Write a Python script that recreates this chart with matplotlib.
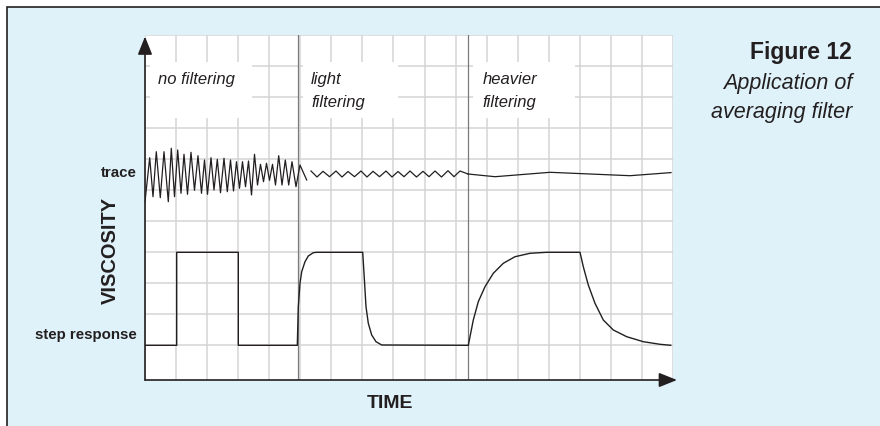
import matplotlib
matplotlib.use("Agg")
import matplotlib.pyplot as plt
from matplotlib.patches import Rectangle
import numpy as np

plt.rcParams["font.family"] = ["Liberation Sans", "DejaVu Sans"]

# ── データ（時間・粘度とも任意単位、グリッド 1 目盛 = 31）────────────────
# トレース：フィルタなし（谷・山を交互に読み取り）
trace_raw_t = [0, 4.7, 8, 11.3, 15.3, 19, 23.3, 26.3, 29.5, 32.7, 36, 39, 42.5, 46,
               49.5, 53, 56.5, 59.5, 62.5, 66, 69, 72.3, 75.5, 79, 82.3, 85.5, 88.5,
               91.5, 94.5, 97.5, 100.5, 103.5, 106.5, 109.5, 112.5, 115.5, 118.5,
               121.5, 124.5, 127.5, 130.5, 133.7, 137, 140.3, 143.7, 147, 151, 155,
               161.7]
trace_raw_v = [143.6, 187.6, 148.6, 193.6, 147.6, 193.6, 143.6, 197, 148.6, 195.3,
               152, 191, 151, 193, 155, 189.6, 152, 185.3, 151, 187.6, 155.3, 186,
               152.6, 187, 153.6, 185.3, 154.3, 183.6, 157, 183.6, 158.6, 184.3,
               150.3, 191, 160.3, 181, 163.6, 182, 165, 181, 160.3, 189.6, 160.3,
               185.3, 160.3, 183.6, 158.6, 180.3, 165.3]
# トレース：軽いフィルタ
trace_light_t = [166, 172, 178, 184.5, 191, 197, 203, 209.5, 216, 222, 228, 234.5,
                 241, 247, 253, 259, 265, 271.5, 278, 284, 290, 296.5, 303, 309,
                 315, 323]
trace_light_v = [174.3, 168.3, 174.0, 168.6, 174.3, 168.3, 173.8, 168.6, 174.3,
                 168.3, 174.0, 168.6, 174.3, 168.3, 173.8, 168.6, 174.3, 168.3,
                 174.0, 168.6, 174.3, 168.3, 174.6, 168.6, 174.3, 171.3]
# トレース：強いフィルタ
trace_heavy_t = [323, 350, 405, 485, 526]
trace_heavy_v = [171.3, 168.6, 173, 169.6, 172.7]

# ステップ応答
step_t = [0, 31.7, 31.7, 93.3, 93.3, 152.3,
          153.3, 155, 156.7, 160, 163.3, 168.3, 171.7, 217.7,
          219, 221, 223.3, 226.7, 231, 236.7, 323.3,
          328.3, 333.3, 340, 348.3, 358.3, 370, 385, 401.7, 435,
          438.3, 443.3, 450, 458.3, 468.3, 481.7, 498.3, 515, 525.7]
step_v = [0, 0, 93, 93, 0, 0,
          38.6, 62, 73.6, 83.6, 89.3, 92.6, 93, 93,
          72, 38.6, 22, 10.3, 3.6, 0.3, 0,
          25.3, 43.6, 58.6, 72, 82, 88.6, 92, 93, 93,
          78.6, 60.3, 42, 25.3, 15.3, 8.6, 3.6, 1, 0]

dividers = [152.7, 323.3]
stage_labels = [["no filtering"], ["light", "filtering"], ["heavier", "filtering"]]
stage_x = [13, 166, 337.7]
stage_boxes = [(5, 102), (158, 95), (328, 102)]

W, H = 880, 426
BLUE = "#dff2fa"
INK = "#231f20"


def fx(px):
    return px / W


def fy(py):
    return 1 - py / H


fig = plt.figure(figsize=(W / 100, H / 100), dpi=100, facecolor="white")

# 背景パネル（右・下の枠は画面外）
fig.patches.append(Rectangle((fx(6.5), -0.1), 1.2, fy(6.5) + 0.1,
                             transform=fig.transFigure, facecolor=BLUE,
                             edgecolor=INK, lw=1.2, zorder=-10))

ax = fig.add_axes([fx(145), fy(380), 528 / W, 345 / H])
ax.set_facecolor("white")
ax.set_xlim(0, 528)
ax.set_ylim(-34.7, 310.3)
ax.set_xticks(np.linspace(0, 528, 18))
ax.set_yticks(np.arange(0, 311, 31))
ax.grid(True, color="#d4d4d4", lw=1.1, zorder=0)
ax.set_axisbelow(True)
ax.tick_params(length=0, labelbottom=False, labelleft=False)
for s in ax.spines.values():
    s.set_visible(False)

# ラベル背後の白い箱
for x0, w in stage_boxes:
    ax.add_patch(Rectangle((x0, 227), w, 56, facecolor="white", edgecolor="none", zorder=1))

for xd in dividers:
    ax.axvline(xd, color="#7a7a7a", lw=0.9, zorder=2)

ax.plot(trace_raw_t, trace_raw_v, color=INK, lw=0.9, zorder=3)
ax.plot(trace_light_t, trace_light_v, color=INK, lw=0.9, zorder=3)
ax.plot(trace_heavy_t, trace_heavy_v, color=INK, lw=0.9, zorder=3)
ax.plot(step_t, step_v, color=INK, lw=1.0, zorder=3)

for lines, x in zip(stage_labels, stage_x):
    for i, txt in enumerate(lines):
        ax.text(x, 345.3 - 84 - 22.5 * i, txt, style="italic", fontsize=12,
                color=INK, ha="left", va="baseline", zorder=4)

# 軸の矢印
arrow = dict(arrowstyle="-|>,head_length=0.55,head_width=0.22", color=INK,
             lw=1.2, shrinkA=0, shrinkB=0, mutation_scale=20)
ax.annotate("", xy=(fx(145), fy(36.5)), xytext=(fx(145), fy(380)),
            xycoords="figure fraction", textcoords="figure fraction",
            arrowprops=arrow, annotation_clip=False)
ax.annotate("", xy=(fx(677), fy(380)), xytext=(fx(145), fy(380)),
            xycoords="figure fraction", textcoords="figure fraction",
            arrowprops=arrow, annotation_clip=False)

fig.text(fx(137), fy(173), "trace", fontsize=10.8, weight="bold", color=INK,
         ha="right", va="center")
fig.text(fx(137), fy(335), "step response", fontsize=10.8, weight="bold", color=INK,
         ha="right", va="center")
fig.text(fx(110), fy(250), "VISCOSITY", fontsize=14.4, weight="bold", color=INK,
         ha="center", va="center", rotation=90)
fig.text(fx(390), fy(404), "TIME", fontsize=14, weight="bold", color=INK,
         ha="center", va="center")

fig.text(fx(852), fy(59.3), "Figure 12", fontsize=16.5, weight="bold", color=INK,
         ha="right", va="baseline")
fig.text(fx(852), fy(89.3), "Application of", fontsize=15.5, style="italic",
         color=INK, ha="right", va="baseline")
fig.text(fx(852), fy(118), "averaging filter", fontsize=15.5, style="italic",
         color=INK, ha="right", va="baseline")

fig.savefig("out.png", dpi=100, facecolor="white")
